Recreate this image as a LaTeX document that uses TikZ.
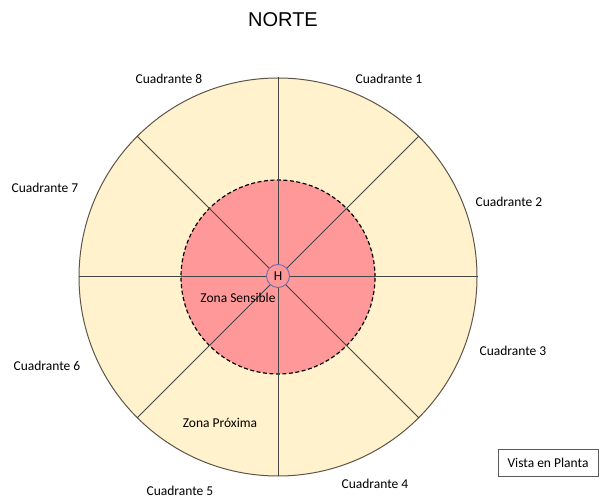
\documentclass[tikz,border=0pt]{standalone}
\usepackage{fontspec}
\setmainfont{Carlito}
\newfontfamily\titlefont{Liberation Sans}
\usetikzlibrary{positioning}
\definecolor{zonaprox}{HTML}{FFF2CC}
\definecolor{zonasens}{HTML}{FF9999}
\definecolor{rimgray}{HTML}{5E5548}
\definecolor{spokegray}{HTML}{454545}
\definecolor{hubblue}{HTML}{6C6CB0}
\definecolor{boxgray}{HTML}{5A5A5A}

\begin{document}
\begin{tikzpicture}[x=1pt,y=-1pt,
  zona/.style={circle,inner sep=0pt},
  spoke/.style={draw=spokegray,line width=1pt},
  etiqueta/.style={font=\fontsize{13.5}{16}\selectfont,inner sep=0pt}]
\useasboundingbox (0,0) rectangle (600,502);

\node[font=\titlefont\fontsize{20}{24}\selectfont] (norte) at (283,20) {NORTE};

% zonas
\node[zona,fill=zonaprox,draw=rimgray,line width=1pt,minimum size=398pt] (prox) at (278,277) {};
\node[zona,fill=zonasens,draw=black,line width=1.2pt,dash pattern=on 4pt off 2.5pt,minimum size=194pt] (sens) at (278,277) {};
\foreach \a in {0,45,...,315}
  \draw[spoke] (prox.\a) -- (prox.center);
\node[zona,fill=zonasens,draw=hubblue,line width=0.9pt,minimum size=23pt,etiqueta] (hub) at (278,276) {H};

% cuadrantes
\node[etiqueta] (c1) at (389,79) {Cuadrante 1};
\node[etiqueta] (c2) at (509,202) {Cuadrante 2};
\node[etiqueta] (c3) at (513,351) {Cuadrante 3};
\node[etiqueta] (c4) at (375,484) {Cuadrante 4};
\node[etiqueta] (c5) at (180,491) {Cuadrante 5};
\node[etiqueta] (c6) at (47,366) {Cuadrante 6};
\node[etiqueta] (c7) at (45,188) {Cuadrante 7};
\node[etiqueta] (c8) at (169,79) {Cuadrante 8};

\node[etiqueta] (zs) at (238,298) {Zona Sensible};
\node[etiqueta] (zp) at (220,423) {Zona Próxima};

\node[etiqueta,draw=boxgray,line width=0.9pt,minimum width=100pt,minimum height=27pt] (vista) at (548,462.5) {Vista en Planta};
\end{tikzpicture}
\end{document}
